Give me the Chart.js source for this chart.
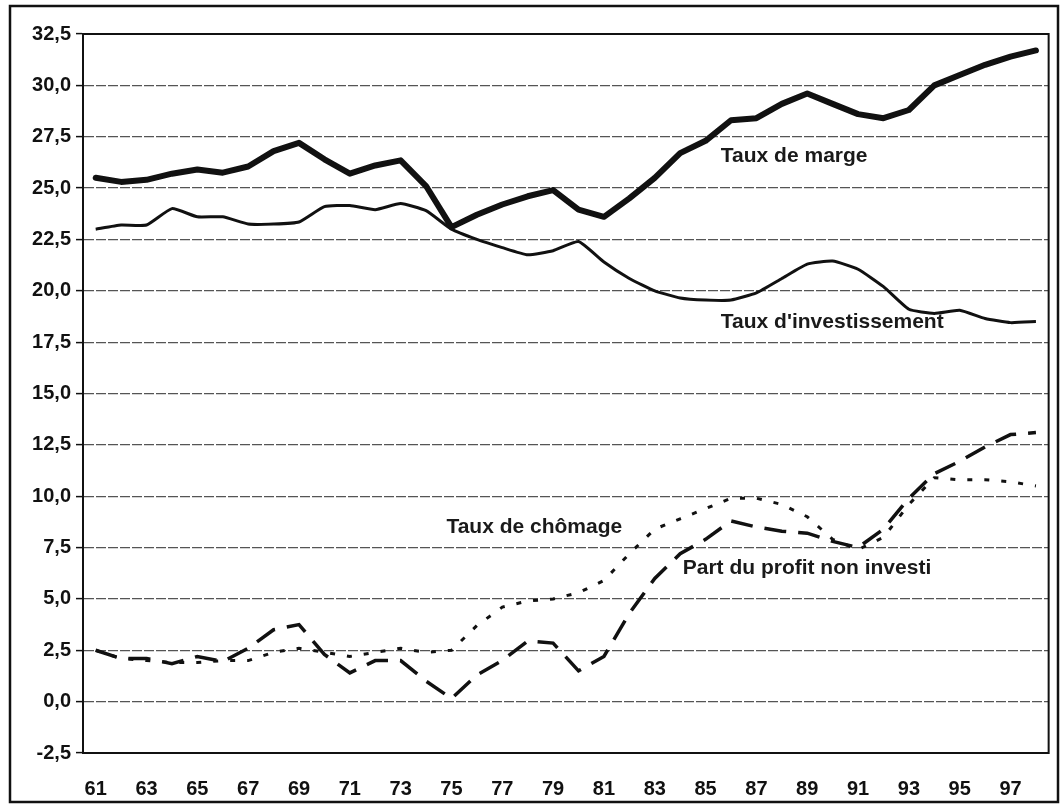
<!DOCTYPE html>
<html>
<head>
<meta charset="utf-8">
<script src="https://cdn.jsdelivr.net/npm/chart.js@4.4.1/dist/chart.umd.min.js"></script>
<style>
    body { margin: 0; background: #fff; }
    #wrap { width: 1060px; height: 810px; position: relative; }
</style>
</head>
<body>
<div id="wrap"><canvas id="chart"></canvas></div>
<script>
// années (catégories) et étiquettes affichées sur l'axe
const years = ['61', '62', '63', '64', '65', '66', '67', '68', '69', '70',
    '71', '72', '73', '74', '75', '76', '77', '78', '79', '80',
    '81', '82', '83', '84', '85', '86', '87', '88', '89', '90',
    '91', '92', '93', '94', '95', '96', '97', '98'];
const tickYears = ['61', '63', '65', '67', '69', '71', '73', '75', '77', '79',
    '81', '83', '85', '87', '89', '91', '93', '95', '97'];

// séries (en %)
const tauxMarge = [25.5, 25.3, 25.4, 25.7, 25.9, 25.75, 26.05, 26.8, 27.2, 26.4,
    25.7, 26.1, 26.35, 25.1, 23.1, 23.7, 24.2, 24.6, 24.9, 23.95,
    23.6, 24.5, 25.5, 26.7, 27.3, 28.3, 28.4, 29.1, 29.6, 29.1,
    28.6, 28.4, 28.8, 30.0, 30.5, 31.0, 31.4, 31.7];
const tauxInvest = [23.0, 23.2, 23.2, 24.0, 23.6, 23.6, 23.25, 23.25, 23.35, 24.1,
    24.15, 23.95, 24.25, 23.9, 23.0, 22.5, 22.1, 21.75, 21.95, 22.4,
    21.4, 20.6, 20.0, 19.65, 19.55, 19.55, 19.9, 20.6, 21.3, 21.45,
    21.05, 20.2, 19.1, 18.9, 19.05, 18.65, 18.45, 18.5];
const tauxChomage = [2.5, 2.1, 2.0, 1.9, 1.9, 2.0, 2.0, 2.4, 2.6, 2.4,
    2.2, 2.4, 2.6, 2.4, 2.5, 3.7, 4.6, 4.9, 5.0, 5.3,
    5.9, 7.2, 8.4, 8.9, 9.4, 9.9, 9.9, 9.6, 9.0, 7.9,
    7.4, 8.0, 9.6, 10.9, 10.8, 10.8, 10.7, 10.5];
const partProfit = [2.5, 2.1, 2.1, 1.85, 2.2, 1.95, 2.6, 3.5, 3.75, 2.3,
    1.4, 2.0, 2.0, 1.0, 0.15, 1.3, 2.0, 2.95, 2.85, 1.5,
    2.2, 4.3, 6.0, 7.2, 7.9, 8.8, 8.5, 8.3, 8.2, 7.8,
    7.5, 8.4, 9.9, 11.1, 11.7, 12.4, 13.0, 13.1];

const ink = '#111111';
const fontFamily = '"Liberation Sans", Arial, sans-serif';

// cadre, bordure du graphique et étiquettes des courbes
const decor = {
    id: 'decor',
    beforeDraw(chart) {
        const { ctx, width, height } = chart;
        ctx.save();
        ctx.fillStyle = '#ffffff';
        ctx.fillRect(0, 0, width, height);
        ctx.restore();
    },
    afterDraw(chart) {
        const { ctx, chartArea: a, scales: { x, y } } = chart;
        ctx.save();
        ctx.setLineDash([]);
        ctx.strokeStyle = ink;
        ctx.lineWidth = 2;
        ctx.strokeRect(a.left, a.top, a.right - a.left, a.bottom - a.top);
        ctx.lineWidth = 2.5;
        ctx.strokeRect(10, 6, 1048, 796);

        // position (indice, valeur) de chaque étiquette
        const spots = [[24.6, 26.55], [24.6, 18.45], [13.8, 8.5], [23.1, 6.5]];
        ctx.font = 'bold 21px ' + fontFamily;
        ctx.fillStyle = '#1a1a1a';
        ctx.textBaseline = 'middle';
        ctx.textAlign = 'left';
        chart.data.datasets.forEach((ds, i) => {
            const [xi, yv] = spots[i];
            ctx.fillText(ds.label, x.getPixelForValue(xi), y.getPixelForValue(yv));
        });
        ctx.restore();
    }
};

new Chart(document.getElementById('chart'), {
    type: 'line',
    data: {
        labels: years,
        datasets: [
            {
                label: 'Taux de marge',
                data: tauxMarge,
                borderColor: ink,
                borderWidth: 6,
                borderJoinStyle: 'round',
                borderCapStyle: 'round',
                pointRadius: 0,
                tension: 0
            },
            {
                label: "Taux d'investissement",
                data: tauxInvest,
                borderColor: ink,
                borderWidth: 3,
                borderJoinStyle: 'round',
                pointRadius: 0,
                tension: 0.15
            },
            {
                label: 'Taux de chômage',
                data: tauxChomage,
                borderColor: ink,
                borderWidth: 3,
                borderDash: [5, 12],
                pointRadius: 0,
                tension: 0
            },
            {
                label: 'Part du profit non investi',
                data: partProfit,
                borderColor: ink,
                borderWidth: 3.5,
                borderDash: [22, 12],
                pointRadius: 0,
                tension: 0
            }
        ]
    },
    options: {
        responsive: true,
        maintainAspectRatio: false,
        animation: false,
        layout: { padding: { top: 34, right: 5, left: 0, bottom: 0 } },
        plugins: {
            legend: { display: false },
            tooltip: { enabled: false }
        },
        scales: {
            x: {
                offset: true,
                grid: { display: false, drawTicks: false },
                border: { display: true, color: ink, width: 2 },
                ticks: {
                    autoSkip: false,
                    maxRotation: 0,
                    padding: 24,
                    color: ink,
                    font: { family: fontFamily, size: 20, weight: 'bold' },
                    callback: (v, i) => tickYears.includes(years[i]) ? years[i] : ''
                },
                afterFit: (scale) => { scale.height = 57; }
            },
            y: {
                min: -2.5,
                max: 32.5,
                grid: {
                    color: '#555555',
                    lineWidth: 1.2,
                    tickLength: 7,
                    tickColor: ink,
                    tickWidth: 1.5
                },
                border: { display: true, color: ink, width: 2, dash: [10, 2] },
                ticks: {
                    stepSize: 2.5,
                    padding: 5,
                    color: ink,
                    font: { family: fontFamily, size: 20, weight: 'bold' },
                    callback: (v) => v.toFixed(1).replace('.', ',')
                },
                afterFit: (scale) => { scale.width = 83; }
            }
        }
    },
    plugins: [decor]
});
</script>
</body>
</html>
